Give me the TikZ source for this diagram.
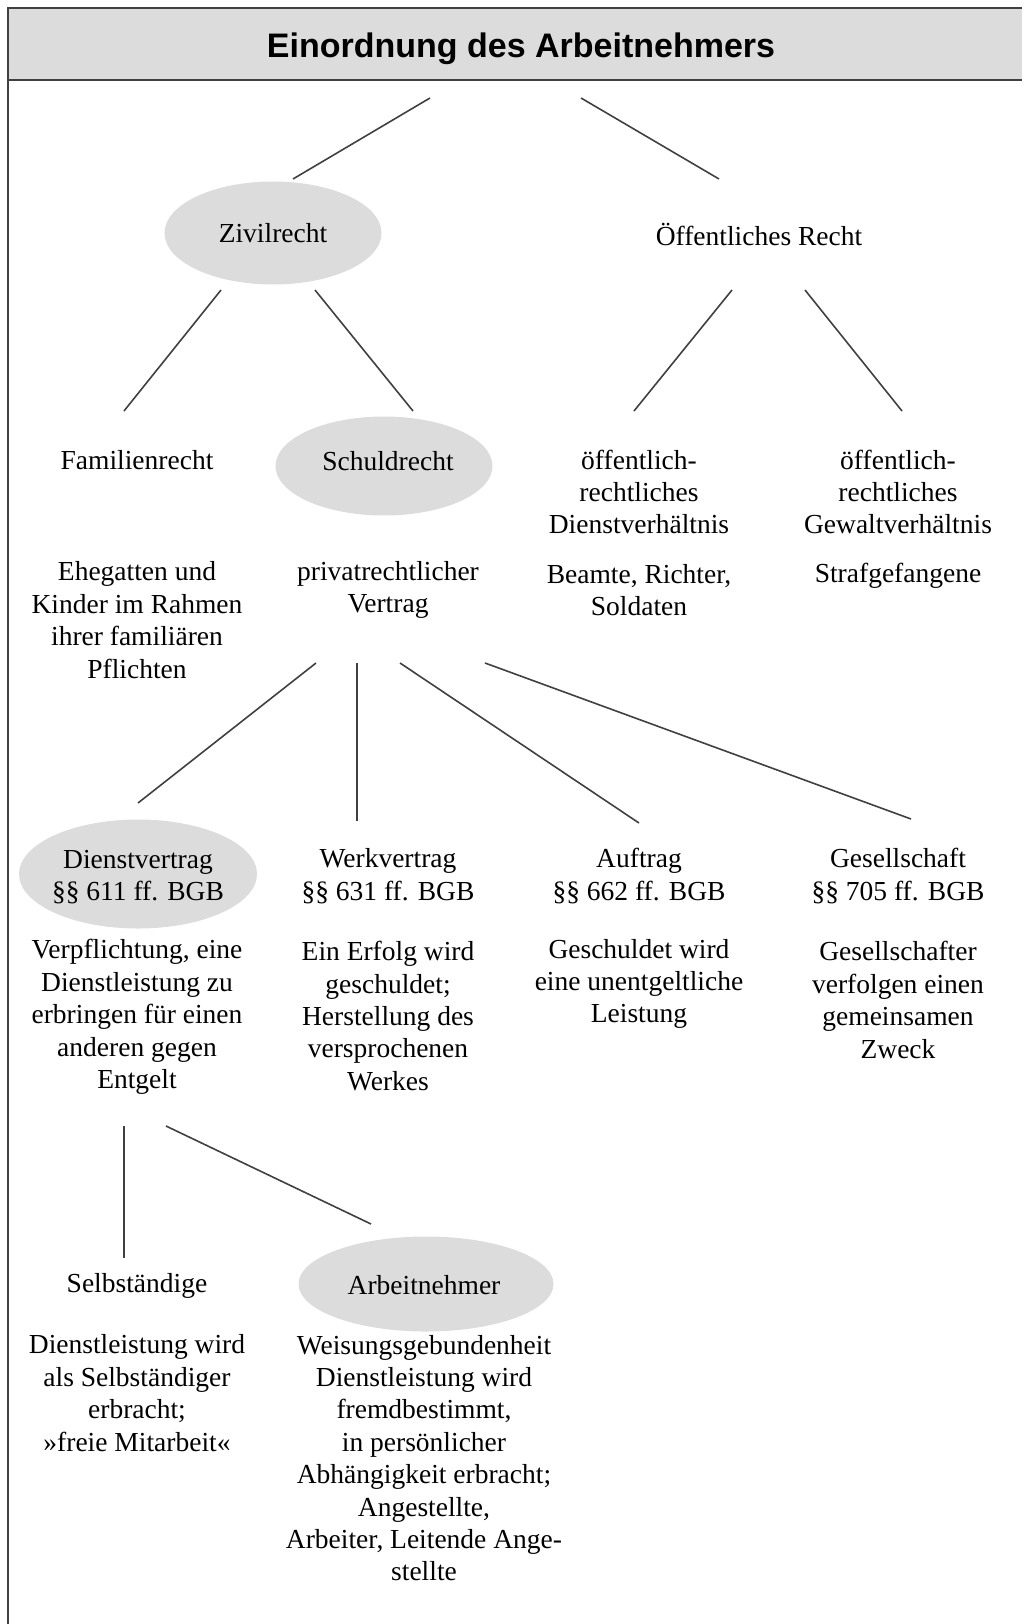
\documentclass[tikz,border=0pt]{standalone}
\usepackage{fontspec}
\setmainfont{Liberation Serif}
\newfontfamily\titlefont{Liberation Sans}
\usetikzlibrary{shapes,calc}
\definecolor{fillgray}{RGB}{220,220,220}
\definecolor{linegray}{RGB}{64,64,64}

\begin{document}
\begin{tikzpicture}[x=1pt,y=-1pt,
            txt/.style={align=center,inner sep=0pt,font=\fontsize{27.5}{32.4}\selectfont},
            oval/.style={ellipse,fill=fillgray,txt},
            conn/.style={draw=linegray,line width=1.6pt},
            titlebar/.style={draw=linegray,line width=1.6pt,fill=fillgray,minimum width=1026,minimum height=72,
              text height=25pt,text depth=0pt,font=\titlefont\bfseries\fontsize{34}{40}\selectfont}
          ]
          \useasboundingbox (0,0) rectangle (1021,1624);
          \draw[conn] (8,1640) -- (8,44);
          \node[titlebar] (title) at (521,44) {};
          \node[text height=25pt,text depth=0pt,inner sep=0pt,font=\titlefont\bfseries\fontsize{34}{40}\selectfont] (titletext) at (521,45) {Einordnung des Arbeitnehmers};

          %first level
          \node[oval,minimum width=217,minimum height=103] (zivil) at (273,233) {Zivilrecht};
          \node[txt] (oeff) at (759,234) {Öffentliches Recht};

          %second level
          \node[txt] (famil) at (137,460) {Familienrecht};
          \node[oval,minimum width=217,minimum height=99] (schuld) at (384,466) {};
          \node[txt] (schuldtext) at (388,461) {Schuldrecht};
          \node[txt] (odienst) at (639,492) {öffentlich-\\rechtliches\\Dienstverhältnis};
          \node[txt] (ogewalt) at (898,492) {öffentlich-\\rechtliches\\Gewaltverhältnis};

          \node[txt] (ehe) at (137,620) {Ehegatten und\\Kinder im Rahmen\\ihrer familiären\\Pflichten};
          \node[txt] (vertrag) at (388,590) {privatrechtlicher\\Vertrag};
          \node[txt] (beamte) at (639,590) {Beamte, Richter,\\Soldaten};
          \node[txt] (straf) at (898,576) {Strafgefangene};

          %contracts
          \node[oval,minimum width=238,minimum height=109] (dienstv) at (138,874) {};
          \node[txt] (dienstvtext) at (138,877) {Dienstvertrag\\§§ 611 ff. BGB};
          \node[txt] (werk) at (388,876) {Werkvertrag\\§§ 631 ff. BGB};
          \node[txt] (auftrag) at (639,876) {Auftrag\\§§ 662 ff. BGB};
          \node[txt] (gesell) at (898,876) {Gesellschaft\\§§ 705 ff. BGB};

          \node[txt] (verpfl) at (137,1017) {Verpflichtung, eine\\Dienstleistung zu\\erbringen für einen\\anderen gegen\\Entgelt};
          \node[txt] (erfolg) at (388,1016) {Ein Erfolg wird\\geschuldet;\\Herstellung des\\versprochenen\\Werkes};
          \node[txt] (unentg) at (639,984) {Geschuldet wird\\eine unentgeltliche\\Leistung};
          \node[txt] (zweck) at (898,1000) {Gesellschafter\\verfolgen einen\\gemeinsamen\\Zweck};

          %last level
          \node[txt] (selbst) at (137,1286) {Selbständige};
          \node[oval,minimum width=255,minimum height=95] (arbeitn) at (426,1284) {};
          \node[txt] (arbeitntext) at (424,1285) {Arbeitnehmer};
          \node[txt] (frei) at (137,1393) {Dienstleistung wird\\als Selbständiger\\erbracht;\\»freie Mitarbeit«};
          \node[txt] (weisung) at (424,1458) {Weisungsgebundenheit\\Dienstleistung wird\\fremdbestimmt,\\in persönlicher\\Abhängigkeit erbracht;\\Angestellte,\\Arbeiter, Leitende Ange-\\stellte};

          %lines
          \draw[conn] ($(title)+(-91,54)$) -- ($(zivil)+(20,-54)$);
          \draw[conn] ($(title)+(60,54)$) -- ($(oeff)+(-40,-55)$);
          \draw[conn] ($(zivil)+(-52,57)$) -- ($(famil)+(-13,-49)$);
          \draw[conn] ($(zivil)+(42,57)$) -- ($(schuld)+(29,-55)$);
          \draw[conn] ($(oeff)+(-27,56)$) -- ($(odienst)+(-5,-81)$);
          \draw[conn] ($(oeff)+(46,56)$) -- ($(ogewalt)+(4,-81)$);
          \draw[conn] ($(vertrag)+(-72,73)$) -- ($(dienstv)+(0,-71)$);
          \draw[conn] ($(vertrag)+(-31,73)$) -- ($(werk)+(-31,-55)$);
          \draw[conn] ($(vertrag)+(12,73)$) -- ($(auftrag)+(0,-53)$);
          \draw[conn] ($(vertrag)+(97,73)$) -- ($(gesell)+(13,-57)$);
          \draw[conn] ($(verpfl)+(-13,109)$) -- ($(selbst)+(-13,-28)$);
          \draw[conn] ($(verpfl)+(29,109)$) -- ($(arbeitn)+(-55,-60)$);
      \end{tikzpicture}
\end{document}
